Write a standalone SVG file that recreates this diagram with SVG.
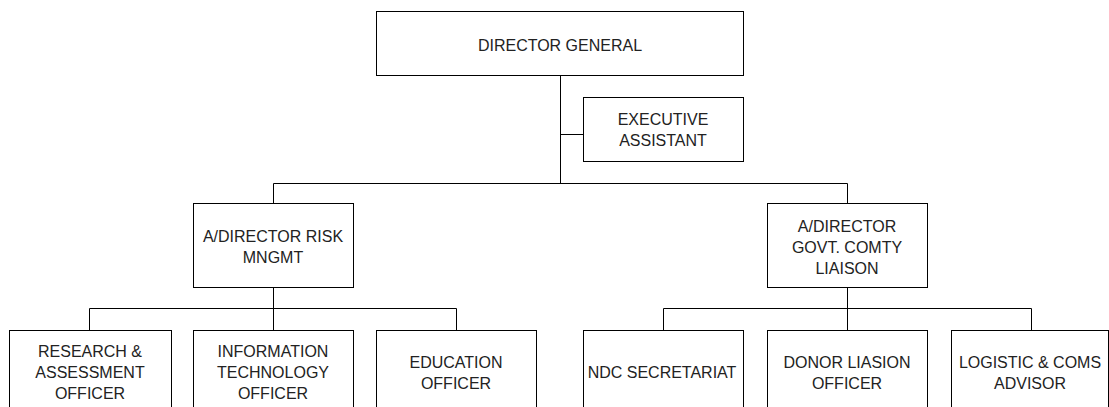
<svg xmlns="http://www.w3.org/2000/svg" width="1109" height="407" viewBox="0 0 1109 407">
<style>
.box{fill:#fff;stroke:#000;stroke-width:1}
.ln{fill:none;stroke:#000;stroke-width:1}
text{font-family:"Liberation Sans",Arial,sans-serif;font-size:16px;fill:#222;text-anchor:middle}
</style>
<rect width="1109" height="407" fill="#fff"/>
<g id="connectors" class="ln">
<path d="M560.5 75V183.5M560.5 134.5H583.5M273.5 183.5H847.5M273.5 183.5V203.5M847.5 183.5V203.5"/>
<path d="M273.5 287V308.5M89.5 308.5H456.5M89.5 308.5V330.5M273.5 308.5V330.5M456.5 308.5V330.5"/>
<path d="M847.5 287V308.5M663.5 308.5H1031.5M663.5 308.5V330.5M847.5 308.5V330.5M1031.5 308.5V330.5"/>
</g>
<g id="dg"><rect class="box" x="376.5" y="11.5" width="367" height="64"/><text x="560" y="51">DIRECTOR GENERAL</text></g>
<g id="ea"><rect class="box" x="583.5" y="97.5" width="160" height="64"/><text x="663" y="125">EXECUTIVE</text><text x="663" y="146">ASSISTANT</text></g>
<g id="adrm"><rect class="box" x="193.5" y="203.5" width="160" height="84"/><text x="273" y="241.5">A/DIRECTOR RISK</text><text x="273" y="262.5">MNGMT</text></g>
<g id="adgcl"><rect class="box" x="767.5" y="203.5" width="160" height="84"/><text x="847" y="232">A/DIRECTOR</text><text x="847" y="252.5">GOVT. COMTY</text><text x="847" y="273.5">LIAISON</text></g>
<g id="rao"><rect class="box" x="9.5" y="330.5" width="162" height="90"/><text x="90" y="357">RESEARCH &amp;</text><text x="90" y="378">ASSESSMENT</text><text x="90" y="399">OFFICER</text></g>
<g id="ito"><rect class="box" x="193.5" y="330.5" width="160" height="90"/><text x="273" y="357">INFORMATION</text><text x="273" y="378">TECHNOLOGY</text><text x="273" y="399">OFFICER</text></g>
<g id="edu"><rect class="box" x="376.5" y="330.5" width="160" height="90"/><text x="456" y="367.5">EDUCATION</text><text x="456" y="388.5">OFFICER</text></g>
<g id="ndc"><rect class="box" x="583.5" y="330.5" width="160" height="90"/><text x="662" y="377.5">NDC SECRETARIAT</text></g>
<g id="dlo"><rect class="box" x="767.5" y="330.5" width="160" height="90"/><text x="847" y="367.5">DONOR LIASION</text><text x="847" y="388.5">OFFICER</text></g>
<g id="lca"><rect class="box" x="951.5" y="330.5" width="157" height="90"/><text x="1030" y="367.5">LOGISTIC &amp; COMS</text><text x="1030" y="388.5">ADVISOR</text></g>
</svg>
